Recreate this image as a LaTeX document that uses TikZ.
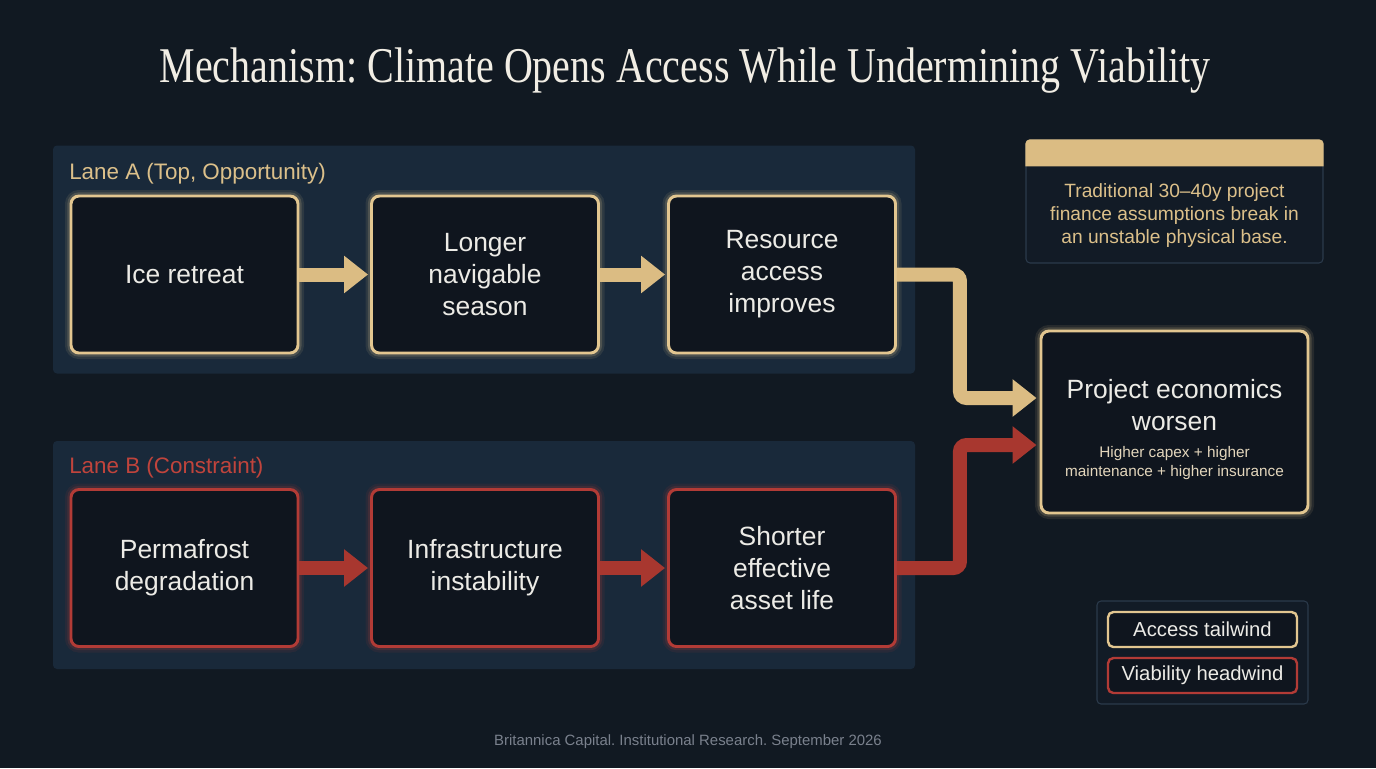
\documentclass[tikz,border=0pt]{standalone}
\usepackage{fontspec}
\setmainfont{Liberation Sans}
\newfontfamily\titlefont{Liberation Serif}
\usetikzlibrary{arrows.meta,calc}
\frenchspacing
\definecolor{bg}{HTML}{111922}
\definecolor{lanefill}{HTML}{19293A}
\definecolor{boxfill}{HTML}{0F151E}
\definecolor{goldbd}{HTML}{E2C690}
\definecolor{goldar}{HTML}{DBBC83}
\definecolor{goldtx}{HTML}{DCC08A}
\definecolor{redbd}{HTML}{B23B36}
\definecolor{redar}{HTML}{A8372F}
\definecolor{redtx}{HTML}{C0443C}
\definecolor{txt}{HTML}{ECEBE6}
\definecolor{subtx}{HTML}{E3D6BC}
\definecolor{notebd}{HTML}{2B3A4B}
\definecolor{notefill}{HTML}{121B26}
\definecolor{foot}{HTML}{7A818D}
\definecolor{titletx}{HTML}{F1EDE4}
\tikzset{
  lane/.style={fill=lanefill, rounded corners=3pt, minimum width=646.5pt, minimum height=171pt, inner sep=0pt},
  lanelabel/.style={anchor=west, inner sep=0pt, font=\fontsize{16.8}{20}\selectfont},
  flowbox/.style={draw=#1, line width=2.2pt, fill=boxfill, rounded corners=6pt,
    minimum width=170.25pt, minimum height=117.75pt, align=center, text=txt,
    font=\fontsize{19.8}{24}\selectfont,
    preaction={draw=#1, line width=9pt, opacity=0.10},
    preaction={draw=#1, line width=5.5pt, opacity=0.18}},
  fat/.style={draw=#1, line width=10.5pt, -{Triangle[length=18pt,width=27pt]}},
  legitem/.style={draw=#1, line width=1.8pt, fill=boxfill, rounded corners=4pt,
    minimum width=141.75pt, minimum height=26.25pt, text=txt, font=\fontsize{15.2}{18}\selectfont}
}
\begin{document}
\begin{tikzpicture}[x=0.75pt,y=-0.75pt]
\useasboundingbox (0,0) rectangle (1376,768);
\fill[bg] (0,0) rectangle (1376,768);

% title
\node (title) at (685,71) {\titlefont\color{titletx}\scalebox{1}[1.25]{\fontsize{30}{36}\selectfont Mechanism: Climate Opens Access While Undermining Viability}};

% lanes
\node[lane] (laneA) at (484,259.5) {};
\node[lane] (laneB) at (484,555) {};
\node[lanelabel, text=goldtx] (labA) at (69,173.5) {Lane A (Top, Opportunity)};
\node[lanelabel, text=redtx] (labB) at (69,467.5) {Lane B (Constraint)};

% lane A boxes
\node[flowbox=goldbd] (a1) at (184.5,274.5) {Ice retreat};
\node[flowbox=goldbd] (a2) at (485,274.5) {Longer\\navigable\\season};
\node[flowbox=goldbd] (a3) at (782,274.5) {Resource\\access\\improves};

% lane B boxes
\node[flowbox=redbd] (b1) at (184.5,568) {Permafrost\\degradation};
\node[flowbox=redbd] (b2) at (485,568) {Infrastructure\\instability};
\node[flowbox=redbd] (b3) at (782,568) {Shorter\\effective\\asset life};

% target
\node[flowbox=goldbd, minimum width=200.25pt, minimum height=136.5pt] (t) at (1174.5,422) {};
\node[text=txt, align=center, font=\fontsize{19.8}{24}\selectfont] (tmain) at ($(t.center)+(0,-17)$) {Project economics\\worsen};
\node[text=subtx, align=center, font=\fontsize{11.5}{14.2}\selectfont] (tsub) at ($(t.center)+(0,41)$) {Higher capex + higher\\maintenance + higher insurance};

% arrows lanes
\draw[fat=goldar] (a1.east) -- ($(a2.west)+(-2,0)$);
\draw[fat=goldar] (a2.east) -- ($(a3.west)+(-2,0)$);
\draw[fat=redar] (b1.east) -- ($(b2.west)+(-2,0)$);
\draw[fat=redar] (b2.east) -- ($(b3.west)+(-2,0)$);

% elbow arrows
\draw[fat=goldar, rounded corners=5pt] (a3.east) -- ($(a3.east)+(63,0)$) |- ($(t.west)+(-3,-24)$);
\draw[fat=redar, rounded corners=5pt] (b3.east) -- ($(b3.east)+(63,0)$) |- ($(t.west)+(-3,23)$);

% note box
\node[draw=notebd, line width=0.8pt, fill=notefill, rounded corners=3pt, minimum width=222.75pt, minimum height=92.25pt] (note) at (1174.5,201.5) {};
\fill[goldar] ($(note.north west)+(0,27)$) [rounded corners=3pt] -- (note.north west) -- (note.north east) [sharp corners] -- ($(note.north east)+(0,27)$) -- cycle;
\node[text=goldtx, align=center, font=\fontsize{14.4}{16.9}\selectfont] (notetxt) at ($(note.center)+(0,14)$) {Traditional 30--40y project\\finance assumptions break in\\an unstable physical base.};

% legend
\node[draw=notebd, line width=0.8pt, fill=notefill, rounded corners=3pt, minimum width=158.25pt, minimum height=77.25pt] (leg) at (1202.5,652.5) {};
\node[legitem=goldbd] (l1) at (1202.5,629.5) {Access tailwind};
\node[legitem=redbd] (l2) at (1202.5,675.5) {Viability headwind};

% footer
\node[text=foot, font=\fontsize{11.2}{13}\selectfont] (footer) at (688,742) {Britannica Capital. Institutional Research. September 2026};
\end{tikzpicture}
\end{document}
